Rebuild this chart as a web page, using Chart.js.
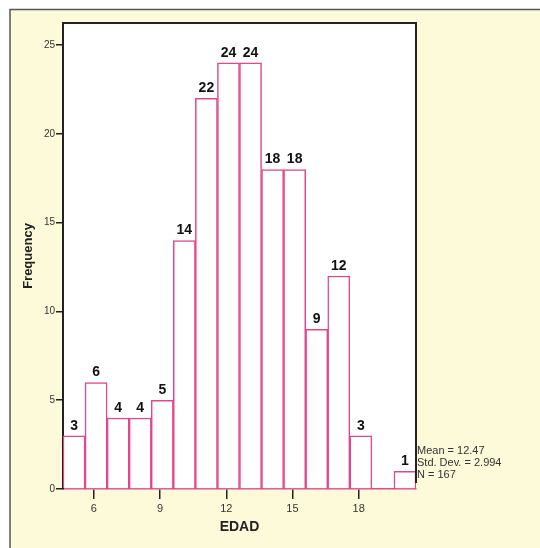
<!DOCTYPE html>
<html>
<head>
<meta charset="utf-8">
<script src="https://cdn.jsdelivr.net/npm/chart.js@4.4.1/dist/chart.umd.min.js"></script>
<style>
  html, body { margin: 0; padding: 0; background: #ffffff; }
  #wrap { width: 540px; height: 548px; position: relative; }
</style>
</head>
<body>
<div id="wrap"><canvas id="hist" width="540" height="548"></canvas></div>
<script>
// histogram bins of EDAD (bin width 1)
const binMids = [5.1, 6.1, 7.1, 8.1, 9.1, 10.1, 11.1, 12.1, 13.1, 14.1, 15.1, 16.1, 17.1, 18.1, 19.1, 20.1];
const counts  = [3, 6, 4, 4, 5, 14, 22, 24, 24, 18, 18, 9, 12, 3, 0, 1];
const xTicks = [6, 9, 12, 15, 18];
const yTicks = [0, 5, 10, 15, 20, 25];
const statLines = ["Mean = 12.47", "Std. Dev. = 2.994", "N = 167"];

const pink = "#e2468c";
const font = "'Liberation Sans', Arial, sans-serif";

// yellow page panel behind the chart + black frame top/right
const panelPlugin = {
    id: "panel",
    beforeDraw(chart) {
        const ctx = chart.ctx;
        const a = chart.chartArea;
        ctx.save();
        ctx.fillStyle = "#fcfad9";
        ctx.fillRect(10, 9, 530, 539);
        ctx.strokeStyle = "#555";
        ctx.lineWidth = 1.5;
        ctx.beginPath();
        ctx.moveTo(10, 548);
        ctx.lineTo(10, 9.5);
        ctx.lineTo(540, 9.5);
        ctx.stroke();
        ctx.fillStyle = "#ffffff";
        ctx.fillRect(a.left, a.top, a.right - a.left, a.bottom - a.top);
        ctx.restore();
    },
    afterDraw(chart) {
        const ctx = chart.ctx;
        const a = chart.chartArea;
        ctx.save();
        ctx.strokeStyle = "#222";
        ctx.lineWidth = 2;
        ctx.beginPath();
        ctx.moveTo(a.left, a.top);
        ctx.lineTo(a.right, a.top);
        ctx.lineTo(a.right, a.bottom - 6);
        ctx.stroke();
        // stats box
        ctx.fillStyle = "#333";
        ctx.font = "11px " + font;
        ctx.textBaseline = "middle";
        statLines.forEach((t, i) => ctx.fillText(t, a.right + 1, 451 + i * 12));
        ctx.restore();
    }
};

// bold count labels above each bar
const countLabels = {
    id: "countLabels",
    afterDatasetsDraw(chart) {
        const ctx = chart.ctx;
        const meta = chart.getDatasetMeta(0);
        ctx.save();
        ctx.fillStyle = "#111";
        ctx.font = "bold 14px " + font;
        ctx.textAlign = "center";
        ctx.textBaseline = "bottom";
        meta.data.forEach((bar, i) => {
            if (counts[i] > 0) ctx.fillText(String(counts[i]), bar.x, bar.y - 3);
        });
        ctx.restore();
    }
};

new Chart(document.getElementById("hist"), {
    type: "bar",
    data: {
        datasets: [{
            label: "EDAD",
            data: binMids.map((m, i) => ({ x: m, y: counts[i] })),
            backgroundColor: "#ffffff",
            borderColor: pink,
            borderWidth: 1.5,
            barPercentage: 1.0,
            categoryPercentage: 1.0,
        }]
    },
    options: {
        responsive: false,
        animation: false,
        events: [],
        layout: { padding: { left: 0, right: 124, top: 23, bottom: 0 } },
        plugins: { legend: { display: false }, tooltip: { enabled: false } },
        scales: {
            x: {
                type: "linear",
                min: 4.6,
                max: 20.6,
                offset: false,
                afterFit: (s) => { s.height = 59; },
                afterBuildTicks: (s) => { s.ticks = xTicks.map(v => ({ value: v })); },
                grid: { offset: false, drawOnChartArea: false, drawTicks: true, tickLength: 10, color: "#222", lineWidth: 1.5 },
                border: { color: pink, width: 1.5 },
                ticks: { color: "#333", padding: 3, font: { size: 11, family: font } },
                title: {
                    display: true, text: "EDAD", color: "#222",
                    font: { size: 14, weight: "bold", family: font },
                    padding: { top: 0, bottom: 12 }
                }
            },
            y: {
                min: 0,
                max: 26.25,
                afterFit: (s) => { s.width = 63; },
                afterBuildTicks: (s) => { s.ticks = yTicks.map(v => ({ value: v })); },
                grid: { drawOnChartArea: false, drawTicks: true, tickLength: 7, color: "#222", lineWidth: 1.5 },
                border: { color: "#222", width: 2 },
                ticks: { color: "#333", padding: 1, font: { size: 10, family: font } },
                title: {
                    display: true, text: "Frequency", color: "#222",
                    font: { size: 13, weight: "bold", family: font },
                    padding: { top: 21, bottom: 0 }
                }
            }
        }
    },
    plugins: [panelPlugin, countLabels]
});
</script>
</body>
</html>
